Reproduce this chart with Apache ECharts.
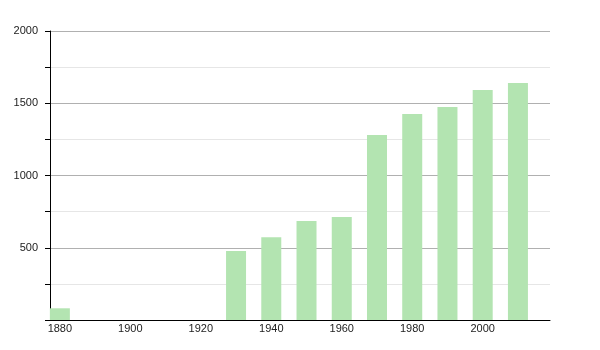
<!DOCTYPE html>
<html><head><meta charset="utf-8">
<script src="https://cdn.jsdelivr.net/npm/echarts@6/dist/echarts.min.js"></script>
<style>html,body{margin:0;padding:0;background:#fff}#c{width:600px;height:350px}</style>
</head><body><div id="c"></div>
<script>
const years = [1880, 1930, 1940, 1950, 1960, 1970, 1980, 1990, 2000, 2010];
const population = [81, 477, 572, 685, 713, 1280, 1426, 1474, 1592, 1640];
const xTickLabels = [1880, 1900, 1920, 1940, 1960, 1980, 2000];
const yTickLabels = [500, 1000, 1500, 2000];

const chart = echarts.init(document.getElementById('c'), null, {renderer: 'canvas'});
chart.setOption({
  animation: false,
  grid: {left: 50, right: 50, top: 31, bottom: 30, containLabel: false},
  xAxis: {
    type: 'value', min: 1877.2, max: 2019.1,
    axisLine: {show: true, lineStyle: {color: '#000', width: 1}},
    axisTick: {show: false},
    splitLine: {show: false},
    axisLabel: {customValues: xTickLabels, margin: 3, fontSize: 11, color: '#222',
      fontFamily: 'Liberation Sans, Arial, sans-serif', formatter: v => String(v)}
  },
  yAxis: {
    type: 'value', min: 0, max: 2000, interval: 250,
    axisLine: {show: true, lineStyle: {color: '#000', width: 1}},
    axisTick: {show: true, length: 5, lineStyle: {color: '#000'}},
    splitLine: {show: true, lineStyle: {color: ['#b0b0b0', '#e6e6e6'], width: 1}},
    axisLabel: {margin: 12, fontSize: 11, color: '#222',
      fontFamily: 'Liberation Sans, Arial, sans-serif',
      formatter: v => yTickLabels.includes(v) ? String(v) : ''}
  },
  series: [{
    type: 'bar', barWidth: 20,
    data: years.map((y, i) => [y, population[i]]),
    itemStyle: {color: '#b3e4b1'}
  }]
});
</script></body></html>
